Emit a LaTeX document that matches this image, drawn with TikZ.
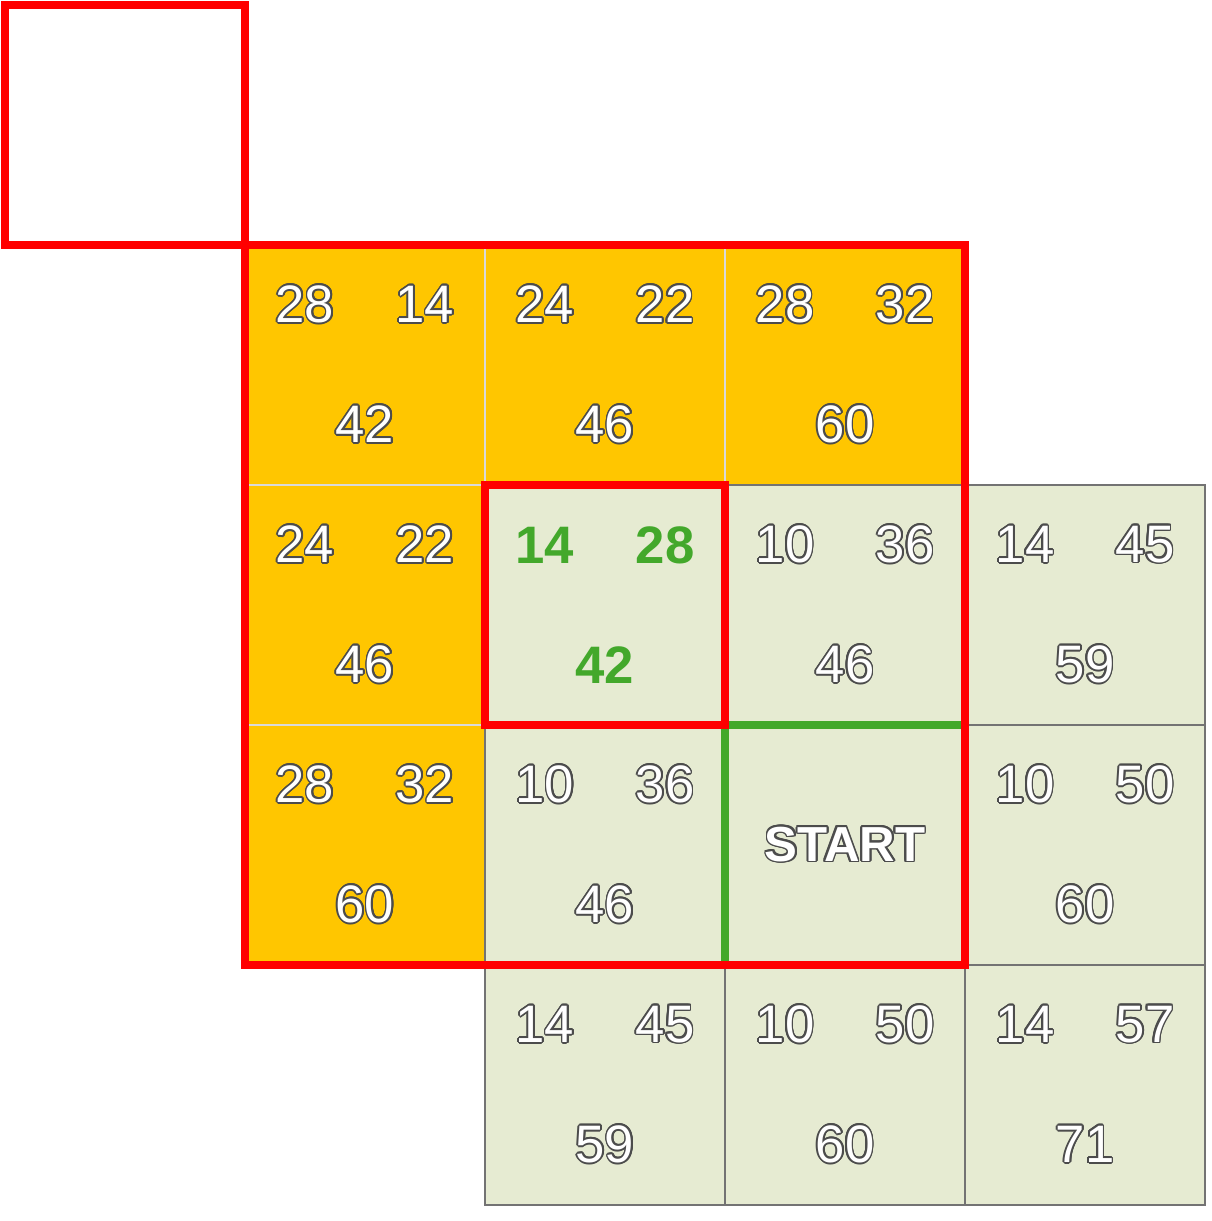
\documentclass[tikz,border=0pt]{standalone}
\usepackage{fontspec}
\setmainfont{Liberation Sans}
\usepackage{tikz}
\usepackage{contour}
\usetikzlibrary{calc, positioning}
\definecolor{gold}{HTML}{FFC600}
\definecolor{pale}{HTML}{E6EBD2}
\definecolor{moss}{HTML}{43A82B}
\contourlength{0.5pt}

\newcommand{\onum}[1]{\contour{black!70}{#1}}
% three costs of one square: two on top, their sum below
\newcommand{\costs}[4]{%
	\node[num] (#1-l) at ($(#1.center)+(-0.6,0.6)$) {\onum{#2}};
	\node[num] (#1-r) at ($(#1.center)+(0.6,0.6)$)  {\onum{#3}};
	\node[num] (#1-s) at ($(#1.center)+(0,-0.6)$)   {\onum{#4}};}

\begin{document}
\begin{tikzpicture}[node distance=2.4cm]
			\tikzstyle{cell}=[rectangle, minimum size=2.4cm, inner sep=0pt, outer sep=0pt]
			\tikzstyle{closedcell}=[cell, fill=gold, draw=white!85!black, line width=0.6pt]
			\tikzstyle{opencell}=[cell, fill=pale, draw=black!55, line width=0.6pt]
			\tikzstyle{num}=[font=\fontsize{15}{18}\selectfont, text=white, inner sep=0pt]
			\tikzstyle{best}=[font=\fontsize{15}{18}\selectfont\bfseries, text=moss, inner sep=0pt]
			\tikzstyle{redline}=[draw=red, line width=2.5pt]
			\tikzstyle{greenline}=[draw=moss, line width=2.3pt]
			
			\useasboundingbox (0,0) rectangle (12.11,-12.21);
			
			\node[cell, fill=white] (blank) at (1.25,-1.25) {};
			\node[closedcell] (c11) at (3.65,-3.65) {};
			\node[closedcell] (c12) [right of=c11] {};
			\node[closedcell] (c13) [right of=c12] {};
			\node[closedcell] (c21) [below of=c11] {};
			\node[opencell]   (c22) [right of=c21] {};
			\node[opencell]   (c23) [right of=c22] {};
			\node[opencell]   (c24) [right of=c23] {};
			\node[closedcell] (c31) [below of=c21] {};
			\node[opencell]   (c32) [right of=c31] {};
			\node[opencell, num, font=\fontsize{14}{17}\selectfont\bfseries] (c33) [right of=c32] {\onum{START}};
			\node[opencell]   (c34) [right of=c33] {};
			\node[opencell]   (c42) [below of=c32] {};
			\node[opencell]   (c43) [right of=c42] {};
			\node[opencell]   (c44) [right of=c43] {};
			
			\costs{c11}{28}{14}{42}
			\costs{c12}{24}{22}{46}
			\costs{c13}{28}{32}{60}
			\costs{c21}{24}{22}{46}
			\costs{c23}{10}{36}{46}
			\costs{c24}{14}{45}{59}
			\costs{c31}{28}{32}{60}
			\costs{c32}{10}{36}{46}
			\costs{c34}{10}{50}{60}
			\costs{c42}{14}{45}{59}
			\costs{c43}{10}{50}{60}
			\costs{c44}{14}{57}{71}
			
			\node[best] (c22-l) at ($(c22.center)+(-0.6,0.6)$) {14};
			\node[best] (c22-r) at ($(c22.center)+(0.6,0.6)$)  {28};
			\node[best] (c22-s) at ($(c22.center)+(0,-0.6)$)   {42};
			
			\draw[greenline] (c33.south west) -- (c33.north west) -- (c33.north east);
			\draw[redline] (blank.north west) rectangle (blank.south east);
			\draw[redline] (c11.north west) -- (c13.north east) -- (c33.south east) -- (c31.south west) -- cycle;
			\draw[redline] (c22.north west) rectangle (c22.south east);
		\end{tikzpicture}
\end{document}
